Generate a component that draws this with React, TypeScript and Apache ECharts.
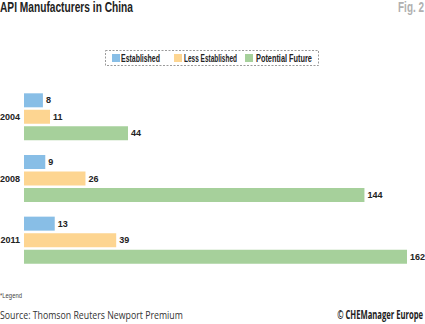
import React, { useEffect, useRef } from "react";
import * as echarts from "echarts";

const categories = ["2004", "2008", "2011"];
const seriesNames = ["Established", "Less Established", "Potential Future"];
const established = [8, 9, 13];
const lessEstablished = [11, 26, 39];
const potentialFuture = [44, 144, 162];
const colors = ["#88BEE6", "#FDD591", "#A6D09B"];

const title = "API Manufacturers in China";
const figLabel = "Fig. 2";
const footnote = "*Legend";
const source = "Source: Thomson Reuters Newport Premium";
const copyright = "© CHEManager Europe";

const FONT = "'Liberation Sans', Arial, sans-serif";

function measure(text: string, font: string): number {
  const c = document.createElement("canvas").getContext("2d");
  if (!c) return text.length * 6;
  c.font = font;
  return c.measureText(text).width;
}

// text element squeezed horizontally to a target width (emulates a condensed face)
function fitText(text: string, font: string, x: number, y: number, width: number, fill: string, align = "left") {
  const w = measure(text, font);
  return {
    type: "text",
    x,
    y,
    scaleX: width / w,
    style: { text, font, fill, align, verticalAlign: "middle" },
  };
}

export default function App() {
  const ref = useRef<HTMLDivElement>(null);
  useEffect(() => {
    if (!ref.current) return;
    const chart = echarts.init(ref.current, null, { renderer: "svg" });
    const values = [established, lessEstablished, potentialFuture];

    const legendFont = `bold 11.5px ${FONT}`;
    const legendIconX = [112, 174, 245];
    const legendTextX = [121, 184, 256];
    const legendTextW = [39, 53, 56];
    const legendItems: any[] = [];
    seriesNames.forEach((name, i) => {
      legendItems.push({
        type: "rect",
        shape: { x: legendIconX[i], y: 54, width: 8, height: 8 },
        style: { fill: colors[i] },
      });
      legendItems.push(fitText(name, legendFont, legendTextX[i], 58, legendTextW[i], "#222"));
    });

    chart.setOption({
      animation: false,
      textStyle: { fontFamily: FONT },
      grid: { left: 24, right: 18, top: 86, height: 185, containLabel: false, outerBoundsMode: "none" },
      xAxis: {
        type: "value",
        min: 0,
        max: 162,
        show: false,
      },
      yAxis: {
        type: "category",
        data: categories,
        inverse: true,
        axisLine: { show: false },
        axisTick: { show: false },
        axisLabel: {
          fontFamily: FONT,
          fontWeight: "bold",
          fontSize: 9,
          color: "#222",
          margin: 4,
        },
      },
      graphic: [
        {
          type: "rect",
          shape: { x: 105.5, y: 50.5, width: 213, height: 15 },
          style: { fill: "none", stroke: "#9a9a9a", lineWidth: 1, lineDash: [2, 1.5] },
          z: -1,
        },
        ...legendItems,
        fitText(title, `bold 14px ${FONT}`, 0, 7.5, 133, "#222"),
        fitText(figLabel, `bold 14px ${FONT}`, 424, 7.5, 26, "#B0B0B0", "right"),
        fitText(footnote, `7px ${FONT}`, 0, 295.5, 22, "#444"),
        fitText(source, `11.5px 'Open Sans', sans-serif`, 0, 315, 183, "#333"),
        fitText(copyright, `bold 11.5px 'Open Sans', sans-serif`, 423, 315, 86, "#222", "right"),
      ],
      series: seriesNames.map((name, i) => ({
        name,
        type: "bar",
        data: values[i],
        barWidth: 14,
        barGap: "18%",
        itemStyle: { color: colors[i] },
        label: {
          show: true,
          position: "right",
          distance: 3,
          fontFamily: FONT,
          fontWeight: "bold",
          fontSize: 9,
          color: "#222",
        },
      })),
    });
    return () => chart.dispose();
  }, []);
  return <div ref={ref} style={{ width: 425, height: 324, position: "absolute", left: 0, top: 0 }} />;
}
